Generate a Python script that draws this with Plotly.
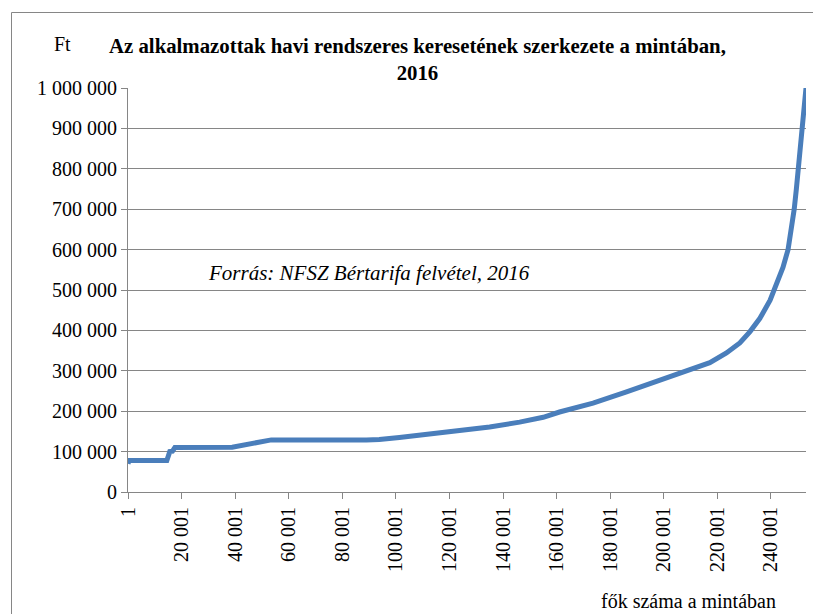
import plotly.graph_objects as go

# Data (employee rank -> monthly earnings, Ft)
rank = [1, 400, 14500, 15000, 15600, 16600, 17500, 38900, 43000, 48000, 50000, 53500,
        89000, 93800, 101300, 112000, 123700, 135000, 146200, 155000, 161100, 173600,
        186100, 198500, 209100, 217200, 223400, 228400, 232200, 235900, 239700,
        242100, 244500, 246400, 247600, 248700, 249500, 250200, 250850, 251450,
        252300, 253100]
earnings = [70000, 78000, 78000, 95000, 100000, 101000, 110000, 111000, 116000, 122000, 124000, 129000,
            129000, 130000, 135000, 143000, 151000, 161000, 173000, 185000, 198000, 220000,
            248000, 277000, 300000, 320000, 344000, 369000, 397000, 430000, 475000,
            517000, 556000, 600000, 650000, 700000, 750000, 800000, 850000, 900000,
            950000, 1000000]

x_tickvals = [1, 20001, 40001, 60001, 80001, 100001, 120001, 140001, 160001, 180001, 200001, 220001, 240001]
x_ticktext = ["1", "20 001", "40 001", "60 001", "80 001", "100 001", "120 001", "140 001",
              "160 001", "180 001", "200 001", "220 001", "240 001"]
y_tickvals = [0, 100000, 200000, 300000, 400000, 500000, 600000, 700000, 800000, 900000, 1000000]
y_ticktext = ["0", "100 000", "200 000", "300 000", "400 000", "500 000", "600 000",
              "700 000", "800 000", "900 000", "1 000 000"]

title_text = "Az alkalmazottak havi rendszeres keresetének szerkezete a mintában,<br>2016"
source_text = "Forrás: NFSZ Bértarifa felvétel, 2016"
y_unit = "Ft"
x_title = "fők száma a mintában"

W, H = 813, 614
L, R, T, B = 128, 7, 88, 122
pw, ph = W - L - R, H - T - B

def px_x(p):
    return (p - L) / pw

def px_y(p):
    return (H - B - p) / ph

grey = "#868686"
font = "Liberation Serif"

fig = go.Figure()
fig.add_trace(go.Scatter(x=rank, y=earnings, mode="lines",
                         line=dict(color="#4A7EBB", width=5), hoverinfo="skip",
                         showlegend=False))

fig.update_layout(
    width=W, height=H,
    margin=dict(l=L, r=R, t=T, b=B, autoexpand=False),
    paper_bgcolor="white", plot_bgcolor="white",
    font=dict(family=font, size=20, color="black"),
    showlegend=False,
    xaxis=dict(range=[1, 253100], tickvals=x_tickvals, ticktext=x_ticktext,
               tickangle=-90, showgrid=False, zeroline=False,
               showline=True, linecolor=grey, linewidth=1,
               ticks="outside", ticklen=6, tickcolor=grey,
               tickfont=dict(family=font, size=20)),
    yaxis=dict(range=[0, 1000000], tickvals=y_tickvals, ticktext=y_ticktext,
               showgrid=True, gridcolor=grey, gridwidth=1, zeroline=False,
               showline=True, linecolor=grey, linewidth=1,
               ticks="outside", ticklen=6, tickcolor=grey,
               tickfont=dict(family=font, size=20)),
    annotations=[
        dict(text="<b>" + title_text + "</b>", x=px_x(417), y=px_y(32), xref="paper", yref="paper",
             xanchor="center", yanchor="top", showarrow=False, align="center",
             font=dict(family=font, size=20.8)),
        dict(text=y_unit, x=px_x(52), y=px_y(44), xref="paper", yref="paper",
             xanchor="left", yanchor="middle", showarrow=False,
             font=dict(family=font, size=20)),
        dict(text="<i>" + source_text + "</i>", x=px_x(206), y=px_y(273), xref="paper", yref="paper",
             xanchor="left", yanchor="middle", showarrow=False,
             font=dict(family=font, size=21)),
        dict(text=x_title, x=px_x(778), y=px_y(601), xref="paper", yref="paper",
             xanchor="right", yanchor="middle", showarrow=False,
             font=dict(family=font, size=20)),
    ],
    shapes=[dict(type="rect", xref="paper", yref="paper",
                 x0=px_x(11.5), x1=px_x(830), y0=px_y(640), y1=px_y(12.5),
                 line=dict(color=grey, width=1), fillcolor="rgba(0,0,0,0)", layer="below")],
)

fig.write_html("out.html", config={"displayModeBar": False},
               post_script="document.body.style.margin='0';document.body.style.padding='0';")
